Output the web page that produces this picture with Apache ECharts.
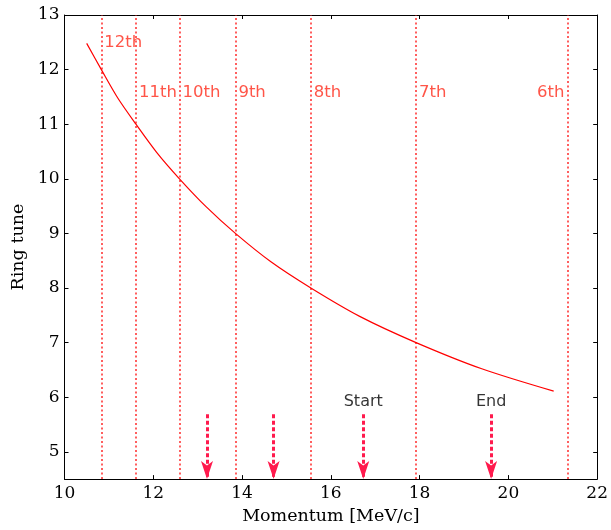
<!DOCTYPE html>
<html>
<head>
<meta charset="utf-8">
<script src="https://cdn.jsdelivr.net/npm/echarts@6/dist/echarts.min.js"></script>
<style>html,body{margin:0;padding:0;background:#fff;overflow:hidden;width:611px;height:530px;}#c{position:absolute;left:0;top:0;width:611px;height:530px;}</style>
</head>
<body>
<div id="c"></div>
<script>
// Curve: momentum [MeV/c] vs ring tune
const curveP = [10.50, 10.83, 11.20, 11.61, 12.08, 12.59, 13.20, 13.85, 14.65, 15.55, 16.65, 17.92, 19.40, 21.02];
const curveTune = [12.48, 12.00, 11.48, 11.00, 10.48, 10.00, 9.48, 9.00, 8.48, 8.00, 7.48, 7.00, 6.52, 6.11];
// Integer-tune resonance lines
const resP = [10.83, 11.61, 12.59, 13.85, 15.55, 17.92, 21.33];
const resNames = ['12th', '11th', '10th', '9th', '8th', '7th', '6th'];
const resLabelTune = [12.5, 11.57, 11.57, 11.57, 11.57, 11.57, 11.57];
// Arrows
const arrowP = [13.21, 14.71, 16.73, 19.61];
const arrowTop = 5.69;
const arrowBottom = 4.5;
const arrowNames = ['', '', 'Start', 'End'];
const arrowLabelTune = 5.92;
// Ticks
const xTicks = [10, 12, 14, 16, 18, 20, 22];
const yTicks = [5, 6, 7, 8, 9, 10, 11, 12, 13];

const serif = 'DejaVu Serif';
const sans = 'DejaVu Sans';
const chart = echarts.init(document.getElementById('c'), null, {renderer: 'canvas', width: 611, height: 530});

const axisCommon = {
  axisLine: {show: true, onZero: false, lineStyle: {color: '#000', width: 1}},
  axisTick: {show: true, inside: true, length: 4, lineStyle: {color: '#000', width: 1}},
  splitLine: {show: false}
};

const resLabelData = resP.map((p, i) => ({
  value: [p, resLabelTune[i]],
  label: {
    show: true,
    formatter: resNames[i],
    position: i === resP.length - 1 ? 'left' : 'right',
    distance: 3,
    color: '#ff2a1a',
    fontFamily: sans,
    fontSize: 16.5
  }
}));

const arrowLabelData = arrowP.map((p, i) => ({
  value: [p, arrowLabelTune],
  label: {show: arrowNames[i] !== '', formatter: arrowNames[i], position: 'inside', color: '#000', fontFamily: sans, fontSize: 16}
}));

const option = {
  animation: false,
  backgroundColor: '#fff',
  grid: {left: 64.5, right: 1.5, top: 15, bottom: 41, containLabel: false},
  xAxis: [
    Object.assign({}, axisCommon, {
      type: 'value', min: 10, max: 22, interval: 2, position: 'bottom',
      name: 'Momentum [MeV/c]', nameLocation: 'middle', nameGap: 21,
      nameTextStyle: {fontFamily: serif, fontSize: 17.5, color: '#000'},
      axisLabel: {show: true, fontFamily: serif, fontSize: 17, color: '#000', margin: 6, showMaxLabel: true, showMinLabel: true}
    }),
    Object.assign({}, axisCommon, {
      type: 'value', min: 10, max: 22, interval: 2, position: 'top',
      axisLabel: {show: false}
    })
  ],
  yAxis: [
    Object.assign({}, axisCommon, {
      type: 'value', min: 4.5, max: 13, position: 'left',
      name: 'Ring tune', nameLocation: 'middle', nameGap: 32,
      nameTextStyle: {fontFamily: serif, fontSize: 17.5, color: '#000'},
      axisLabel: {show: true, fontFamily: serif, fontSize: 17, color: '#000', margin: 5, customValues: yTicks},
      axisTick: {show: true, inside: true, length: 4, lineStyle: {color: '#000', width: 1}, customValues: yTicks}
    }),
    Object.assign({}, axisCommon, {
      type: 'value', min: 4.5, max: 13, position: 'right',
      axisLabel: {show: false, customValues: yTicks},
      axisTick: {show: true, inside: true, length: 4, lineStyle: {color: '#000', width: 1}, customValues: yTicks}
    })
  ],
  series: [
    {
      type: 'line',
      data: curveP.map((p, i) => [p, curveTune[i]]),
      smooth: 0.3,
      showSymbol: false,
      symbol: 'none',
      lineStyle: {color: '#ff0000', width: 1.2},
      z: 5,
      markLine: {
        silent: true,
        symbol: ['none', 'none'],
        label: {show: false},
        lineStyle: {color: '#ff2a2a', type: [2, 2.5], width: 1.5},
        data: resP.map(p => ({xAxis: p}))
      }
    },
    {
      type: 'scatter',
      symbolSize: 0,
      data: resLabelData,
      z: 6
    },
    {
      type: 'scatter',
      symbolSize: 0,
      data: arrowLabelData,
      z: 6
    },
    {
      type: 'line',
      data: [],
      markLine: {
        silent: true,
        symbol: ['none', 'arrow'],
        symbolSize: [9, 18],
        label: {show: false},
        lineStyle: {color: '#ff1a4d', type: [4, 2.5], width: 3, opacity: 1},
        data: arrowP.map(p => [{coord: [p, arrowTop]}, {coord: [p, arrowBottom]}])
      }
    }
  ]
};
chart.setOption(option);
</script>
</body>
</html>
